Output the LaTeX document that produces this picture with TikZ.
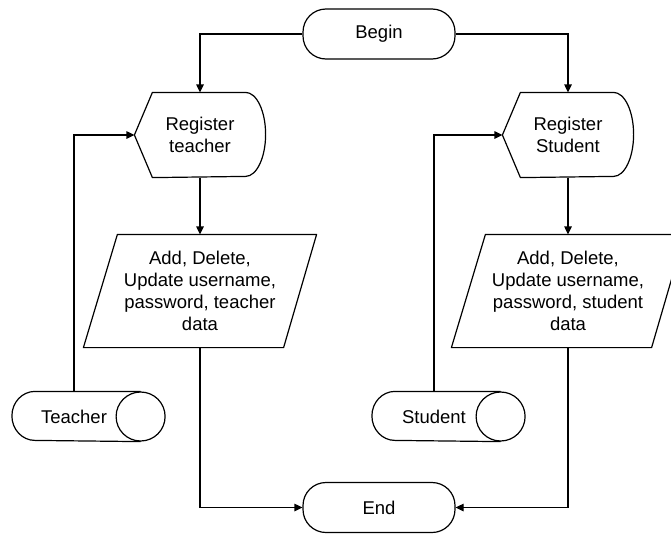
\documentclass[tikz,border=0pt]{standalone}
\usepackage{fontspec}
\setmainfont{Liberation Sans}
\usetikzlibrary{arrows.meta}
\begin{document}
\begin{tikzpicture}[x=1pt,y=-1pt,line width=1.2pt,
  box/.style={inner sep=0pt,align=center,font=\fontsize{18.5}{22.2}\selectfont},
  term/.style={box,draw,rounded corners=23pt,minimum width=152pt,minimum height=50pt},
  disp/.style={box,minimum width=130pt,minimum height=84pt},
  io/.style={box,minimum width=232pt,minimum height=112pt},
  store/.style={box,minimum width=152pt,minimum height=49pt},
  outline/.style={draw,line join=round},
  flow/.style={draw,-{Triangle[length=8pt,width=7.5pt]}}]
\useasboundingbox (0,0) rectangle (671,533);
\clip (0,0) rectangle (671,533);

% terminals
\node[term] (begin) at (379,34) {Begin};
\node[term] (end) at (379,507.5) {End};

% registration (display) steps
\node[disp] (rt) at (200,135) {Register\\teacher};
\node[disp] (rs) at (568,135) {Register\\Student};
\foreach \n in {rt,rs}
  \path[outline] (\n.west) -- ([xshift=18pt]\n.north west)
    -- ([xshift=-20pt]\n.north east)
    arc[start angle=90,end angle=-90,x radius=20pt,y radius=42pt]
    -- ([xshift=18pt]\n.south west) -- cycle;

% data input/output steps
\node[io] (pt) at (200,291) {Add, Delete,\\Update username,\\password, teacher\\data};
\node[io] (ps) at (568,291) {Add, Delete,\\Update username,\\password, student\\data};
\foreach \n in {pt,ps}
  \path[outline] ([xshift=34pt]\n.north west) -- (\n.north east)
    -- ([xshift=-33pt]\n.south east) -- (\n.south west) -- cycle;

% stored data (direct access storage)
\node[store,label={[box,xshift=-14.5pt]center:Teacher}] (teacher) at (88.5,416.5) {};
\node[store,label={[box,xshift=-14.5pt]center:Student}] (student) at (448.5,416.5) {};
\foreach \n in {teacher,student}{
  \path[outline] ([xshift=-24.5pt]\n.north east) -- ([xshift=23pt]\n.north west)
    arc[start angle=90,end angle=270,x radius=23pt,y radius=24.5pt]
    -- ([xshift=-24.5pt]\n.south east);
  \path[outline] ([xshift=-24.5pt]\n.east) circle[radius=24.5pt];
}

% connectors
\path[flow] (begin.west) -| (rt.north);
\path[flow] (begin.east) -| (rs.north);
\path[flow] (rt.south) -- (pt.north);
\path[flow] (rs.south) -- (ps.north);
\path[flow] (pt.south) |- (end.west);
\path[flow] (ps.south) |- (end.east);
\path[flow] ([xshift=-14.5pt]teacher.north) |- (rt.west);
\path[flow] ([xshift=-14.5pt]student.north) |- (rs.west);
\end{tikzpicture}
\end{document}
